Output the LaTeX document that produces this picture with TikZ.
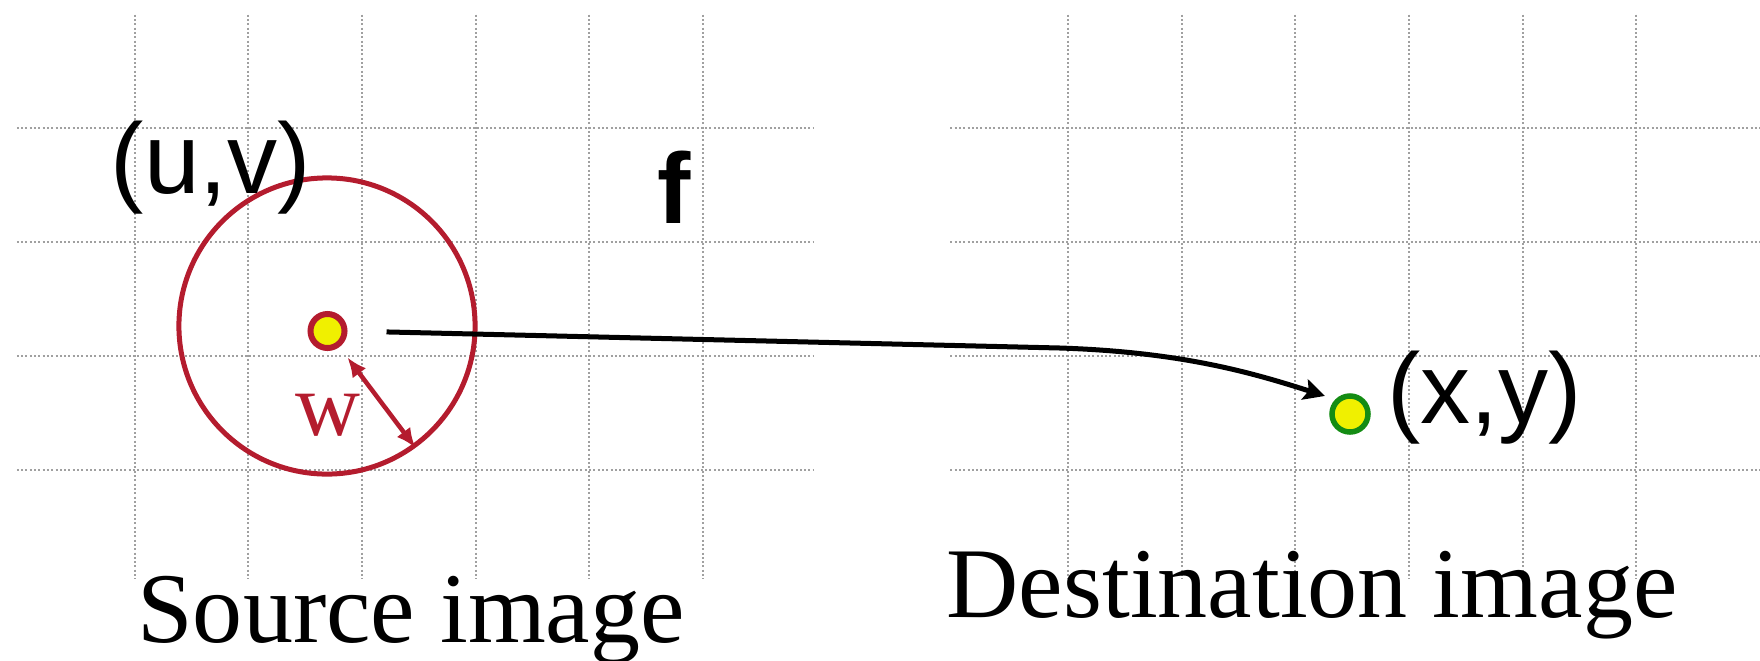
\documentclass[tikz,border=0pt]{standalone}
\usepackage{fontspec}
\setmainfont{Liberation Serif}
\setsansfont{Liberation Sans}
\usetikzlibrary{arrows.meta}
\definecolor{ringred}{RGB}{180,28,46}
\definecolor{dotyellow}{RGB}{240,240,0}
\definecolor{dotgreen}{RGB}{20,140,20}
\definecolor{gridgray}{RGB}{160,160,160}
\tikzset{
  gridline/.style={draw=gridgray, line width=0.02cm, dash pattern=on 0.02cm off 0.023cm},
  ring/.style={circle, draw=ringred, line width=0.05cm, minimum size=2.96cm, inner sep=0},
  srcdot/.style={circle, draw=ringred, fill=dotyellow, line width=0.06cm,
    minimum size=0.34cm, inner sep=0},
  dstdot/.style={srcdot, draw=dotgreen, line width=0.055cm, minimum size=0.36cm},
  arr/.style={-{Stealth[length=6pt,width=6pt,inset=1.2pt]}, line width=0.05cm},
  warr/.style={{Latex[length=5.6pt,width=4.8pt]}-{Latex[length=5.6pt,width=4.8pt]},
    draw=ringred, line width=0.045cm},
  sanslbl/.style={font=\sffamily\fontsize{28.45}{34}\selectfont, inner sep=0, anchor=base},
  caption/.style={font=\fontsize{28.45}{34}\selectfont, inner sep=0, anchor=base}
}

\begin{document}
\begin{tikzpicture}[x=0.01cm, y=-0.01cm]
  \useasboundingbox (0,0) rectangle (1760,660);

  % the two pixel grids
  \foreach \ox/\xe in {0/813.7, 933.5/1760} {
    \foreach \gy in {128.4,242.2,356,469.8}
      \draw[gridline] (16.8+\ox,\gy) -- (\xe,\gy);
    \foreach \i in {0,...,5}
      \draw[gridline] (134.7+113.6*\i+\ox,14.7) -- (134.7+113.6*\i+\ox,578.7);
  }

  \node[ring] (ring) at (327,326) {};
  \node[srcdot] (src) at (327.5,331) {};
  \node[dstdot] (dst) at (1350,414) {};
  \coordinate (bend) at (1060,348);

  \draw[arr, shorten <=0.39cm, shorten >=0.11cm] (src.east) -- (bend)
    .. controls (1180,352) and (1250,372) .. (dst.north west);
  \draw[warr, shorten <=0.13cm] (src) -- (ring.-54.5);

  \node[sanslbl] (uv) at (211,193.6) {(u,v)};
  \node[sanslbl, font=\sffamily\bfseries\fontsize{28.45}{34}\selectfont] (fn) at (674,223) {f};
  \node[sanslbl] (xy) at (1484.6,423) {(x,y)};
  \node[caption, text=ringred, font=\fontsize{25.6}{30}\selectfont] (wlbl) at (328,435) {w};
  \node[caption] (srccap) at (411,642) {Source image};
  \node[caption] (dstcap) at (1312,617) {Destination image};
\end{tikzpicture}
\end{document}
